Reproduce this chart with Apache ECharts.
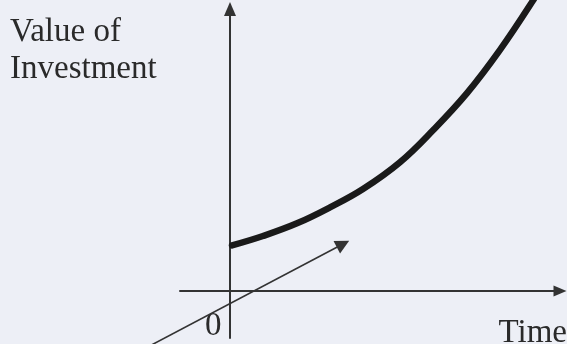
<!DOCTYPE html>
<html>
<head>
<meta charset="utf-8">
<script src="https://cdn.jsdelivr.net/npm/echarts@6/dist/echarts.min.js"></script>
<style>
  html, body { margin: 0; padding: 0; background: #edeff6; }
  #chart { width: 567px; height: 344px; }
</style>
</head>
<body>
<div id="chart"></div>
<script>
// Growth of an investment over time (arbitrary units)
const timePoints   = [0.04, 0.66, 1.34, 2.0, 2.66, 3.4, 4.06, 4.74, 5.4, 6.06, 6.2];
const valuePoints  = [0.97, 1.17, 1.44, 1.78, 2.17, 2.74, 3.42, 4.21, 5.13, 6.18, 6.45];

// Pointer arrow drawn across the origin: [time, value] for tail and head
const pointerTail = [-1.68, -1.21];
const pointerHead = [2.26, 1.0];

const yTitle = 'Value of\nInvestment';
const xTitle = 'Time';
const originLabel = '0';

const ink = '#1a1a1a';
const axisInk = '#333333';
const textInk = '#2a2a2a';
const serif = '"Liberation Serif", "DejaVu Serif", serif';

const chart = echarts.init(document.getElementById('chart'), null, { renderer: 'canvas' });

chart.setOption({
  backgroundColor: '#edeff6',
  animation: false,
  grid: { left: 180, right: 7, top: 9, bottom: 6, containLabel: false, outerBoundsMode: 'none' },
  xAxis: {
    type: 'value',
    min: -1,
    max: 6.6,
    interval: 1,
    name: xTitle,
    nameLocation: 'end',
    nameGap: 7,
    nameTextStyle: {
      fontFamily: serif, fontSize: 33, color: textInk,
      align: 'right', verticalAlign: 'top', padding: [26, 0, 0, 0]
    },
    axisLine: {
      onZero: true,
      lineStyle: { color: axisInk, width: 2 },
      symbol: ['none', 'triangle'],
      symbolSize: [11, 13]
    },
    axisTick: { show: false },
    splitLine: { show: false },
    axisLabel: { show: false }
  },
  yAxis: {
    type: 'value',
    min: -1,
    max: 6,
    interval: 1,
    axisLine: {
      onZero: true,
      lineStyle: { color: axisInk, width: 2 },
      symbol: ['none', 'triangle'],
      symbolSize: [12, 14]
    },
    axisTick: { show: false },
    splitLine: { show: false },
    axisLabel: { show: false }
  },
  graphic: [
    {
      type: 'text',
      left: 10,
      top: 14,
      style: {
        text: yTitle,
        font: '33px ' + serif,
        fill: textInk,
        lineHeight: 37,
        align: 'left'
      }
    },
    {
      type: 'text',
      left: 205,
      top: 310,
      style: {
        text: originLabel,
        font: '33px ' + serif,
        fill: textInk
      }
    }
  ],
  series: [
    {
      type: 'line',
      data: timePoints.map((t, i) => [t, valuePoints[i]]),
      smooth: 0.4,
      showSymbol: false,
      clip: false,
      lineStyle: { color: ink, width: 6.5, cap: 'round' },
      z: 3
    },
    {
      type: 'lines',
      coordinateSystem: 'cartesian2d',
      clip: false,
      symbol: ['none', 'triangle'],
      symbolSize: 14,
      lineStyle: { color: axisInk, width: 1.6, opacity: 1 },
      data: [{ coords: [pointerTail, pointerHead] }],
      z: 2
    }
  ]
});
</script>
</body>
</html>
